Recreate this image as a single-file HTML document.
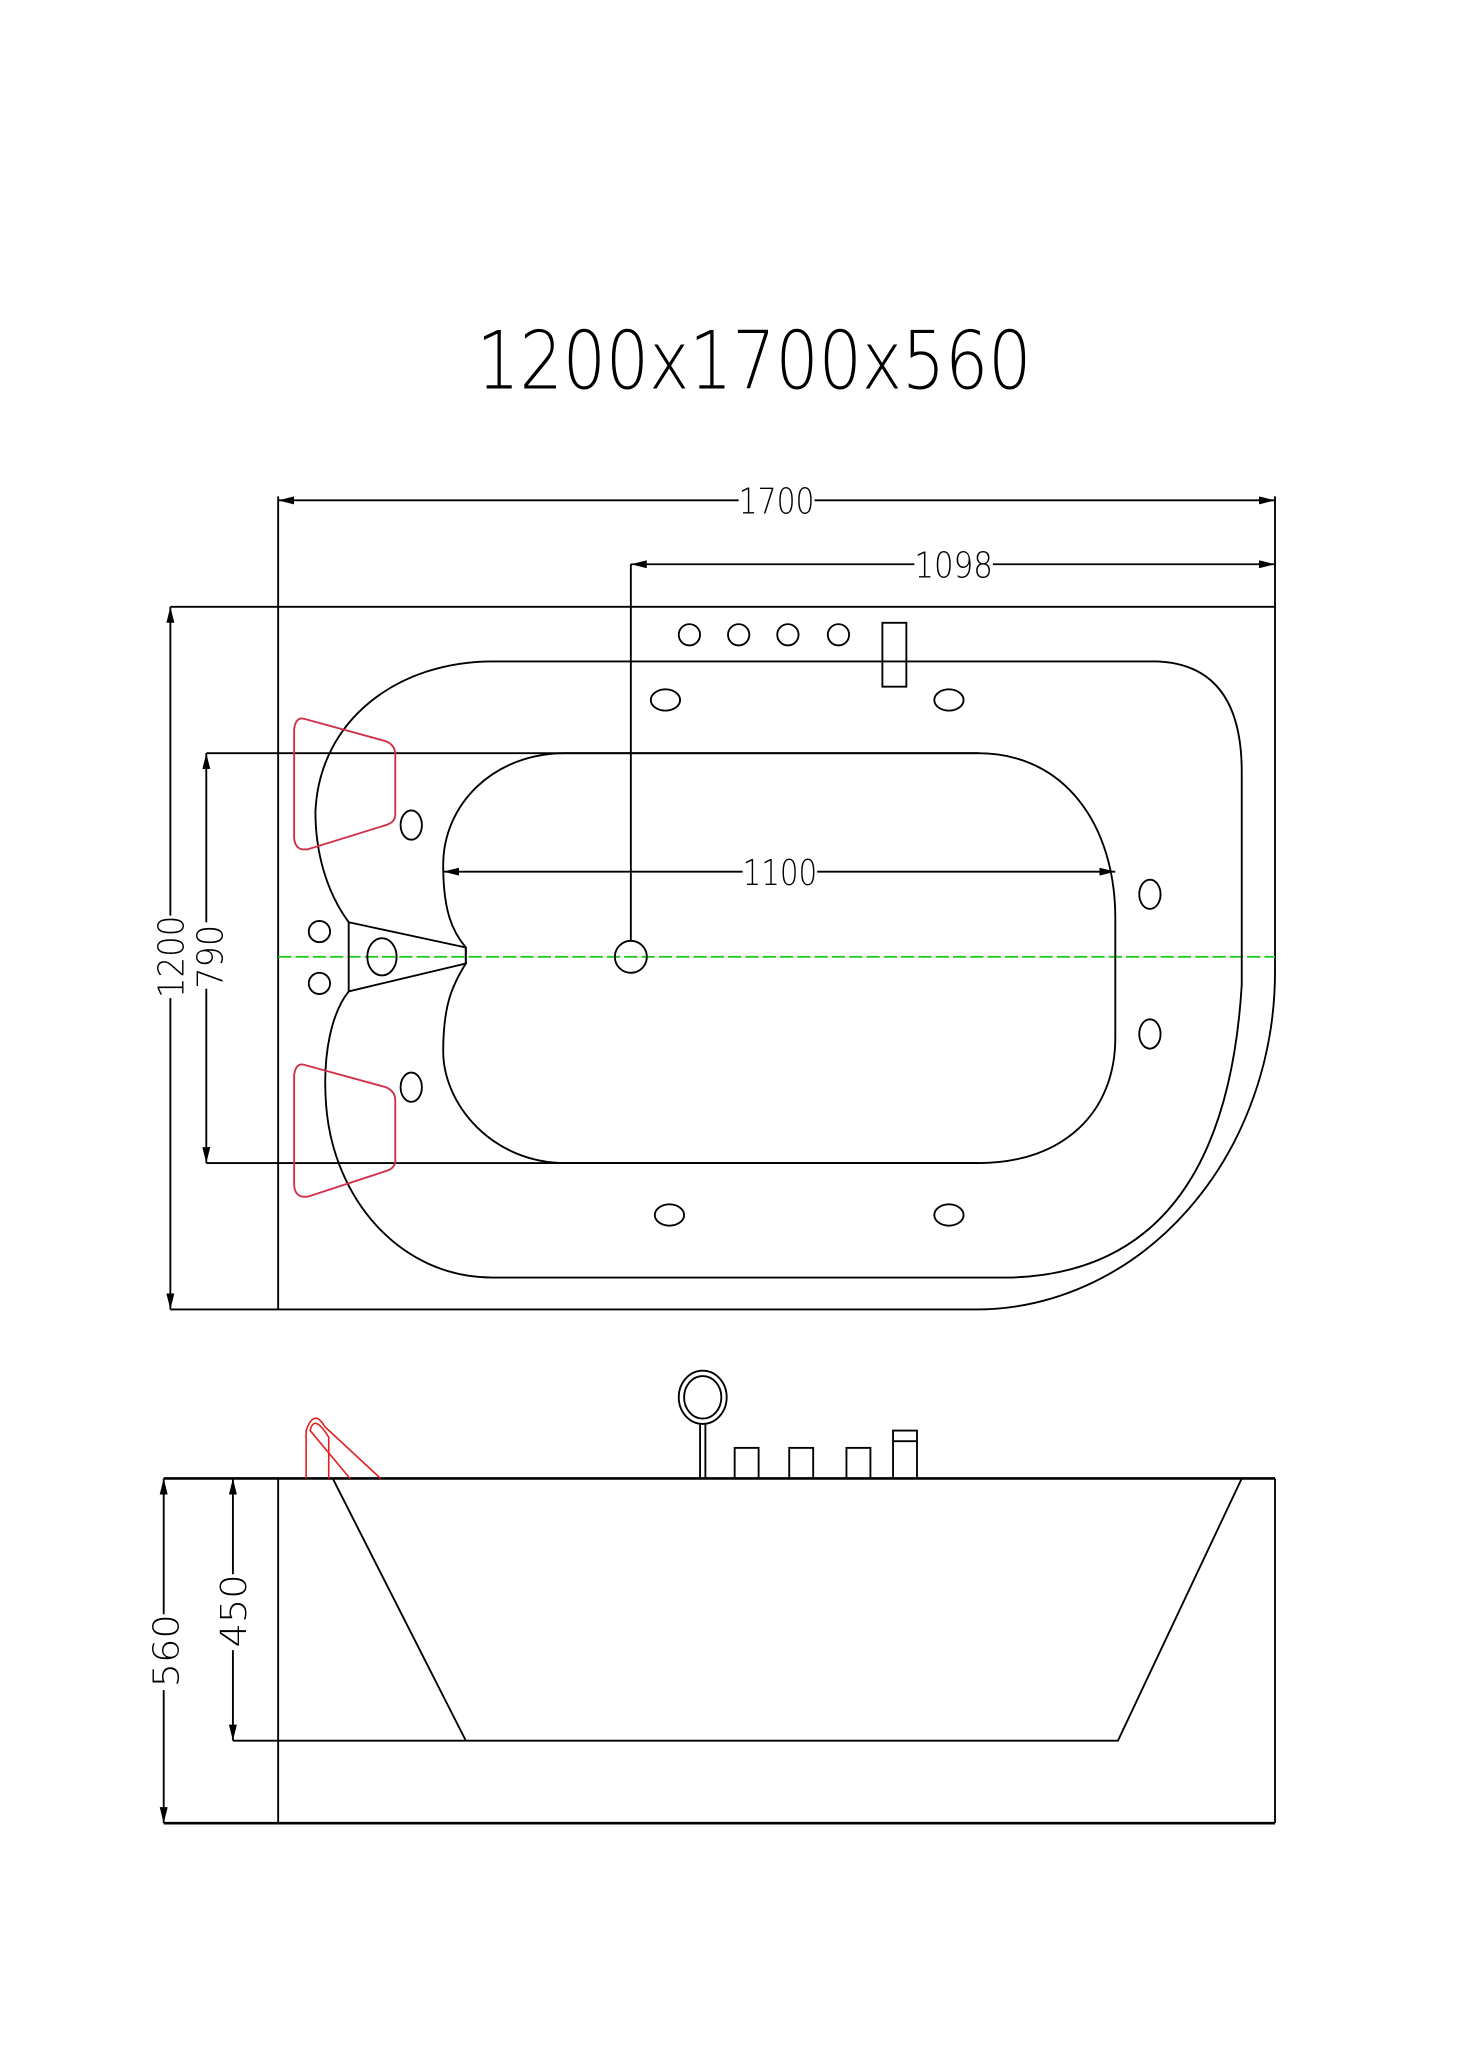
<!DOCTYPE html>
<html><head><meta charset="utf-8"><style>html,body{margin:0;padding:0;background:#fff}svg{display:block}</style></head><body>
<svg width="1464" height="2072" viewBox="0 0 1100 1557" preserveAspectRatio="none" xmlns="http://www.w3.org/2000/svg" font-family="DejaVu Sans, Liberation Sans, sans-serif" font-weight="200">
<defs><marker id="a" markerWidth="12" markerHeight="6" refX="12" refY="3" orient="auto-start-reverse" markerUnits="userSpaceOnUse"><path d="M0,0 L12,3 L0,6 z" fill="#000"/></marker></defs>
<g fill="none" stroke="#000" stroke-width="1.4">
<text x="358" y="292" font-size="60" fill="#000" stroke="none" textLength="417" lengthAdjust="spacingAndGlyphs">1200x1700x560</text>
<!-- plan outer -->
<line x1="128" y1="456" x2="958" y2="456"/>
<line x1="209" y1="373" x2="209" y2="984"/>
<path d="M958,373 V730 A225,254 0 0 1 733,984 H128"/>
<!-- dims -->
<line x1="209" y1="376" x2="555" y2="376" marker-start="url(#a)"/><line x1="612" y1="376" x2="958" y2="376" marker-end="url(#a)"/>
<line x1="474" y1="424" x2="687" y2="424" marker-start="url(#a)"/><line x1="746" y1="424" x2="958" y2="424" marker-end="url(#a)"/>
<line x1="474" y1="424" x2="474" y2="707"/>
<line x1="128" y1="456" x2="128" y2="688" marker-start="url(#a)"/><line x1="128" y1="750" x2="128" y2="984" marker-end="url(#a)"/>
<line x1="155" y1="566" x2="155" y2="693" marker-start="url(#a)"/><line x1="155" y1="743" x2="155" y2="874" marker-end="url(#a)"/>
<line x1="155" y1="566" x2="735" y2="566"/><line x1="155" y1="874" x2="735" y2="874"/>
<line x1="333" y1="655" x2="558" y2="655" marker-start="url(#a)"/><line x1="614" y1="655" x2="838" y2="655" marker-end="url(#a)"/>
<g fill="#000" stroke="none" font-size="27">
<text x="555" y="386" textLength="57" lengthAdjust="spacingAndGlyphs">1700</text>
<text x="687" y="434" textLength="59" lengthAdjust="spacingAndGlyphs">1098</text>
<text x="558" y="665" textLength="56" lengthAdjust="spacingAndGlyphs">1100</text>
<text transform="translate(138,750) rotate(-90)" textLength="62" lengthAdjust="spacingAndGlyphs">1200</text>
<text transform="translate(167,743) rotate(-90)" textLength="48" lengthAdjust="spacingAndGlyphs">790</text>
<text transform="translate(134,1268) rotate(-90)" textLength="55" lengthAdjust="spacingAndGlyphs">560</text>
<text transform="translate(185,1238) rotate(-90)" textLength="55" lengthAdjust="spacingAndGlyphs">450</text>
</g>
<line x1="209" y1="719" x2="958" y2="719" stroke="#2c2" stroke-dasharray="10,3"/>
<!-- rim -->
<path d="M370,497 H870 Q933,500 933,580 V740 Q920,955 760,960 H370 C300,960 250,900 245,830 C242,790 250,760 262,745 M262,693 C245,670 237,640 237,610 C240,540 300,497 370,497"/>
<!-- basin -->
<path d="M425,566 H735 C800,566 838,620 838,690 V780 C838,835 800,874 735,874 H425 C370,874 333,830 333,790 C333,755 340,740 350,724 L350,712 C340,700 333,685 333,650 C333,605 370,566 425,566"/>
<path d="M262,693 V745 L350,724 V712 Z"/>
<ellipse cx="287" cy="719" rx="11" ry="14"/>
<circle cx="240" cy="700" r="8"/><circle cx="240" cy="739" r="8"/>
<circle cx="474" cy="719" r="12"/>
<circle cx="518" cy="477" r="8"/><circle cx="555" cy="477" r="8"/><circle cx="592" cy="477" r="8"/><circle cx="630" cy="477" r="8"/>
<rect x="663" y="468" width="18" height="48"/>
<ellipse cx="500" cy="526" rx="11" ry="8"/><ellipse cx="713" cy="526" rx="11" ry="8"/>
<ellipse cx="309" cy="620" rx="8" ry="11"/><ellipse cx="309" cy="817" rx="8" ry="11"/>
<ellipse cx="864" cy="672" rx="8" ry="11"/><ellipse cx="864" cy="777" rx="8" ry="11"/>
<ellipse cx="503" cy="913" rx="11" ry="8"/><ellipse cx="713" cy="913" rx="11" ry="8"/>
<g stroke="#d0304a">
<path d="M228,540 L290,557 Q297,560 297,567 V612 Q297,618 290,620 L232,638 Q222,640 221,630 V548 Q222,539 228,540 Z"/>
<path d="M228,800 L290,817 Q297,820 297,827 V872 Q297,878 290,880 L232,899 Q222,901 221,891 V808 Q222,799 228,800 Z"/>
</g>
<!-- side -->
<line x1="123" y1="1111" x2="958" y2="1111" stroke-width="2"/>
<line x1="123" y1="1370" x2="958" y2="1370" stroke-width="2"/>
<line x1="209" y1="1111" x2="209" y2="1370"/>
<line x1="958" y1="1111" x2="958" y2="1370"/>
<path d="M250,1111 L350,1308 M175,1308 H840 L933,1111"/>
<line x1="123" y1="1111" x2="123" y2="1213" marker-start="url(#a)"/><line x1="123" y1="1270" x2="123" y2="1370" marker-end="url(#a)"/>
<line x1="175" y1="1111" x2="175" y2="1183" marker-start="url(#a)"/><line x1="175" y1="1240" x2="175" y2="1308" marker-end="url(#a)"/>
<g stroke="#e02020" stroke-width="1.2">
<path d="M230,1111 V1075 Q236,1058 244,1072 L286,1111"/>
<path d="M247,1111 V1080 Q236,1062 233,1075 L263,1111"/>
</g>
<ellipse cx="528" cy="1050" rx="18" ry="20"/><ellipse cx="528" cy="1050" rx="14" ry="16"/>
<path d="M526,1070 V1111 M530,1070 V1111"/>
<rect x="552" y="1088" width="18" height="23"/><rect x="593" y="1088" width="18" height="23"/><rect x="636" y="1088" width="18" height="23"/>
<rect x="671" y="1075" width="18" height="36"/><line x1="671" y1="1083" x2="689" y2="1083"/>
</g>
</svg>
</body></html>
